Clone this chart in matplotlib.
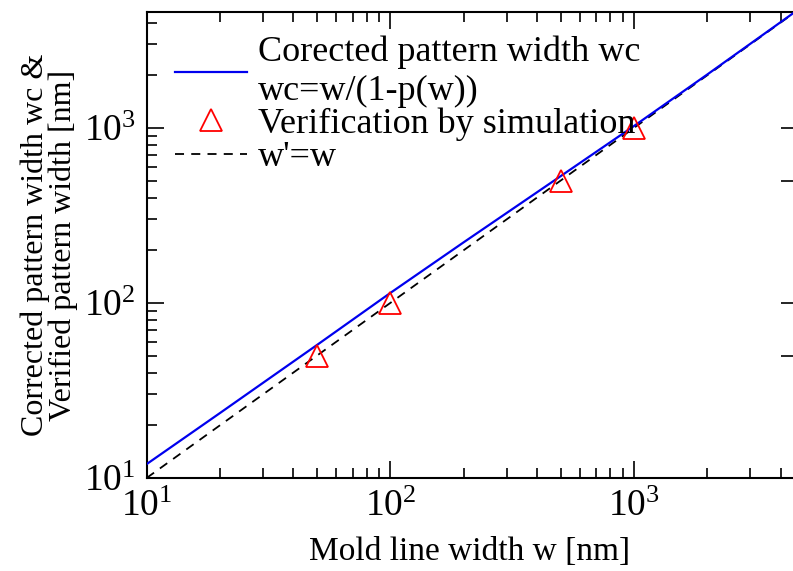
import numpy as np
import matplotlib
matplotlib.use('Agg')
import matplotlib.pyplot as plt

plt.rcParams['font.family'] = ['Liberation Serif', 'DejaVu Serif']
plt.rcParams['mathtext.fontset'] = 'custom'
plt.rcParams['mathtext.rm'] = 'Liberation Serif'
plt.rcParams['mathtext.it'] = 'Liberation Serif:italic'

# corrected width curve wc = w/(1-p(w))
w_line = [10, 20, 50, 100, 200, 500, 1000, 2000, 4500]
wc_line = [12.0, 23.5, 57.5, 114, 222, 530, 1025, 2020, 4520]

# simulation check points
w_sim = [50, 100, 500, 1000]
wc_sim = [50, 100, 500, 1000]

# reference w'=w
w_ref = [10, 4500]

# ticks seen on the right edge
right_ticks = [50, 100, 500, 1000]

fig = plt.figure(figsize=(7.93, 5.71), dpi=100)
ax = fig.add_axes([0.185, 0.163, 0.815, 0.816])

ax.plot(w_ref, w_ref, color='black', lw=1.3, linestyle=(0, (5, 4)),
        label="w'=w", zorder=2)
ax.plot(w_line, wc_line, color='#0000ee', lw=1.6,
        label='Corected pattern width wc\nwc=w/(1-p(w))', zorder=3)
ax.plot(w_sim, wc_sim, linestyle='none', marker='^', markersize=16,
        markerfacecolor='none', markeredgecolor='red', markeredgewidth=1.3,
        label='Verification by simulation', zorder=4)

ax.set_xscale('log')
ax.set_yscale('log')
ax.set_xlim(10, 4500)
ax.set_ylim(10, 4600)

ax.tick_params(which='both', direction='in', top=True, right=False,
               labelsize=27, width=1.2)
ax.tick_params(which='major', length=12, pad=8)
ax.tick_params(which='minor', length=7)
for s in ax.spines.values():
    s.set_linewidth(1.5)
ax.spines['right'].set_visible(False)

# right side: only a few short ticks, spine is off the picture
ax2 = ax.twinx()
ax2.set_yscale('log')
ax2.set_ylim(10, 4600)
ax2.set_yticks(right_ticks)
ax2.yaxis.set_minor_locator(matplotlib.ticker.NullLocator())
ax2.tick_params(which='both', direction='in', length=9, width=1.2,
                labelright=False)
for s in ax2.spines.values():
    s.set_visible(False)

ax.set_xlabel('Mold line width w [nm]', fontsize=24, labelpad=9)
ax.set_ylabel('Corrected pattern width wc &\nVerified pattern width [nm]',
              fontsize=23, linespacing=0.95, labelpad=4)

h, l = ax.get_legend_handles_labels()
order = [1, 2, 0]
ax.legend([h[i] for i in order], [l[i] for i in order],
          loc='upper left', frameon=False, fontsize=26, handlelength=2.0,
          handletextpad=0.3, labelspacing=0.0, borderaxespad=0.2,
          bbox_to_anchor=(0.01, 0.995))

fig.savefig('out.png', dpi=100)
